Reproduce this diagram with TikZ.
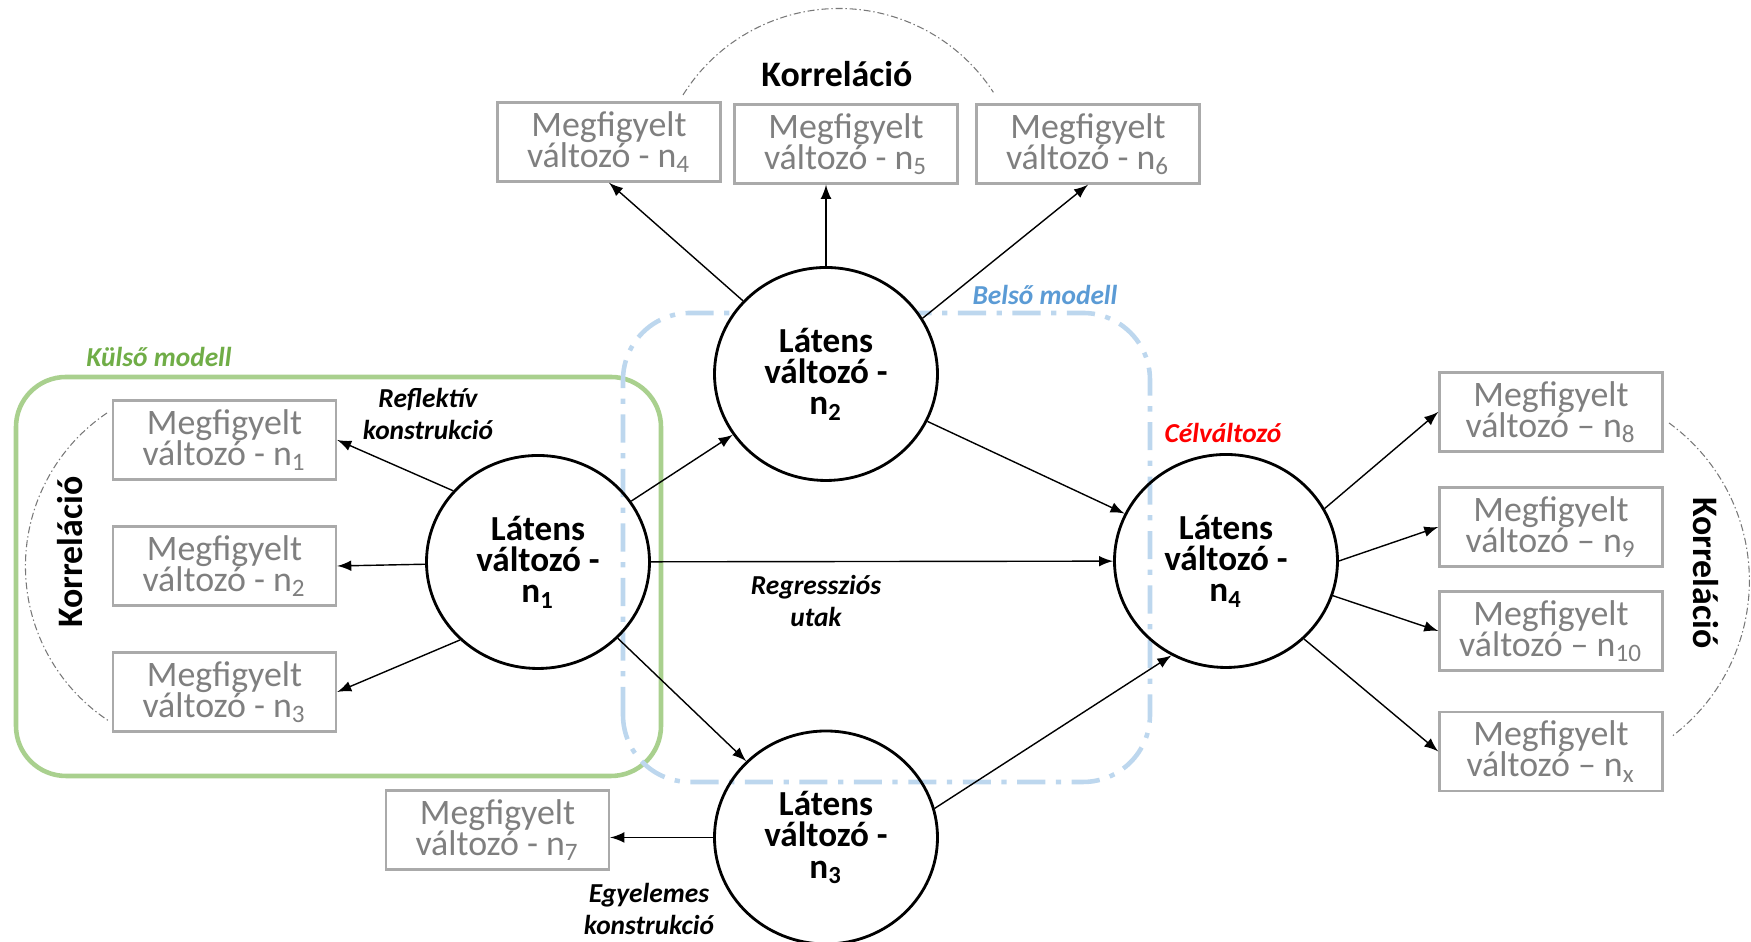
\documentclass[tikz,border=0pt]{standalone}
\usepackage{fontspec}
\setmainfont{Carlito}
\usetikzlibrary{arrows}
\usetikzlibrary{shapes.geometric}
\tikzset{obs/.style = {draw = mgray, text = tgray, line width = 0.7pt, minimum width = 2.23cm, minimum height = 0.79cm, inner sep = 0, align = center, font = \fontsize{10.2}{8.9}\selectfont}}
\tikzset{lat/.style = {draw, ellipse, line width = 0.8pt, minimum width = 2.23cm, minimum height = 2.13cm, inner sep = 0, align = center, font = \bfseries\fontsize{10}{8.9}\selectfont}}
\tikzset{lbl/.style = {align = center, font = \bfseries\itshape\fontsize{7.8}{9.2}\selectfont}}
\tikzset{korr/.style = {font = \bfseries\fontsize{10.2}{12}\selectfont}}
\tikzset{ivl/.style = {draw = cgray, line width = 0.3pt, dash pattern = on 2pt off 0.8pt on 0.4pt off 0.8pt}}
\definecolor{mgray}{RGB}{170,170,170}
\definecolor{tgray}{RGB}{127,127,127}
\definecolor{cgray}{RGB}{120,120,120}
\definecolor{mgreen}{RGB}{169,208,142}
\definecolor{tgreen}{RGB}{112,173,71}
\definecolor{mblue}{RGB}{189,215,238}
\definecolor{tblue}{RGB}{91,155,213}
\definecolor{mred}{RGB}{255,0,0}

\begin{document}
\begin{tikzpicture}[>=latex]
    \useasboundingbox (0, 0) rectangle (17.51, 9.42);

    % kulso es belso modell
    \draw [mgreen, line width = 1.3pt, rounded corners = 0.5cm] (0.16, 1.66) rectangle (6.61, 5.65);
    \draw [mblue, line width = 1.3pt, rounded corners = 0.67cm, dash pattern = on 8pt off 3pt on 1.5pt off 3pt] (6.23, 1.60) rectangle (11.50, 6.29);
    \node [lbl, tgreen] (kulso) at (1.59, 5.85) {Külső modell};
    \node [lbl, tblue] (belso) at (10.45, 6.47) {Belső modell};

    % latens valtozok
    \node [lat] (l1) at (5.38, 3.80) {Látens\\változó -\\n\textsubscript{1}};
    \node [lat, fill = white] (l2) at (8.26, 5.68) {Látens\\változó -\\n\textsubscript{2}};
    \node [lat] (l3) at (8.26, 1.045) {Látens\\változó -\\n\textsubscript{3}};
    \node [lat] (l4) at (12.26, 3.81) {Látens\\változó -\\n\textsubscript{4}};

    % megfigyelt valtozok
    \node [obs] (m1) at (2.245, 5.02) {Megfigyelt\\változó - n\textsubscript{1}};
    \node [obs] (m2) at (2.245, 3.76) {Megfigyelt\\változó - n\textsubscript{2}};
    \node [obs] (m3) at (2.245, 2.50) {Megfigyelt\\változó - n\textsubscript{3}};
    \node [obs] (m4) at (6.09, 8.00) {Megfigyelt\\változó - n\textsubscript{4}};
    \node [obs] (m5) at (8.46, 7.98) {Megfigyelt\\változó - n\textsubscript{5}};
    \node [obs] (m6) at (10.88, 7.98) {Megfigyelt\\változó - n\textsubscript{6}};
    \node [obs] (m7) at (4.975, 1.12) {Megfigyelt\\változó - n\textsubscript{7}};
    \node [obs] (m8) at (15.51, 5.30) {Megfigyelt\\változó – n\textsubscript{8}};
    \node [obs] (m9) at (15.51, 4.15) {Megfigyelt\\változó – n\textsubscript{9}};
    \node [obs] (m10) at (15.51, 3.11) {Megfigyelt\\változó – n\textsubscript{10}};
    \node [obs] (mx) at (15.51, 1.905) {Megfigyelt\\változó – n\textsubscript{x}};

    % feliratok
    \node [lbl] (reflektiv) at (4.28, 5.28) {Reflektív\\konstrukció};
    \node [lbl] (regresszio) at (8.16, 3.41) {Regressziós\\utak};
    \node [lbl] (egyelemes) at (6.49, 0.33) {Egyelemes\\konstrukció};
    \node [lbl, mred] (cel) at (12.23, 5.09) {Célváltozó};

    % korrelacio
    \node [korr] (kfent) at (8.37, 8.68) {Korreláció};
    \node [korr, rotate = 90] (kbal) at (0.70, 3.90) {Korreláció};
    \node [korr, rotate = -90] (kjobb) at (17.06, 3.69) {Korreláció};
    \draw [ivl] (6.83, 8.47) arc [start angle = 148, end angle = 33, radius = 1.84];
    \draw [ivl] (1.07, 5.29) arc [start angle = 124, end angle = 237, radius = 1.85];
    \draw [ivl] (16.69, 5.19) arc [start angle = 54, end angle = -53, radius = 1.95];

    % nyilak
    \draw [->] (l1.140) -- (m1.east);
    \draw [->] (l1) -- (m2.east);
    \draw [->] (l1.225) -- (m3.east);
    \draw [->] (l2) -- (m4.south);
    \draw [->] (l2.north) -- (l2.north |- m5.south);
    \draw [->] (l2.30) -- (m6.south);
    \draw [->] (l3.west) -- (l3.west -| m7.east);
    \draw [->] (l1) -- (l2);
    \draw [->] (l1) -- (l4);
    \draw [->] (l1) -- (l3);
    \draw [->] (l2) -- (l4);
    \draw [->] (l3.15) -- (l4.240);
    \draw [->] (l4.28) -- (m8.west);
    \draw [->] (l4.east) -- (m9.west);
    \draw [->] (l4.-18) -- (m10.west);
    \draw [->] (l4.-45) -- (mx.west);
\end{tikzpicture}
\end{document}
